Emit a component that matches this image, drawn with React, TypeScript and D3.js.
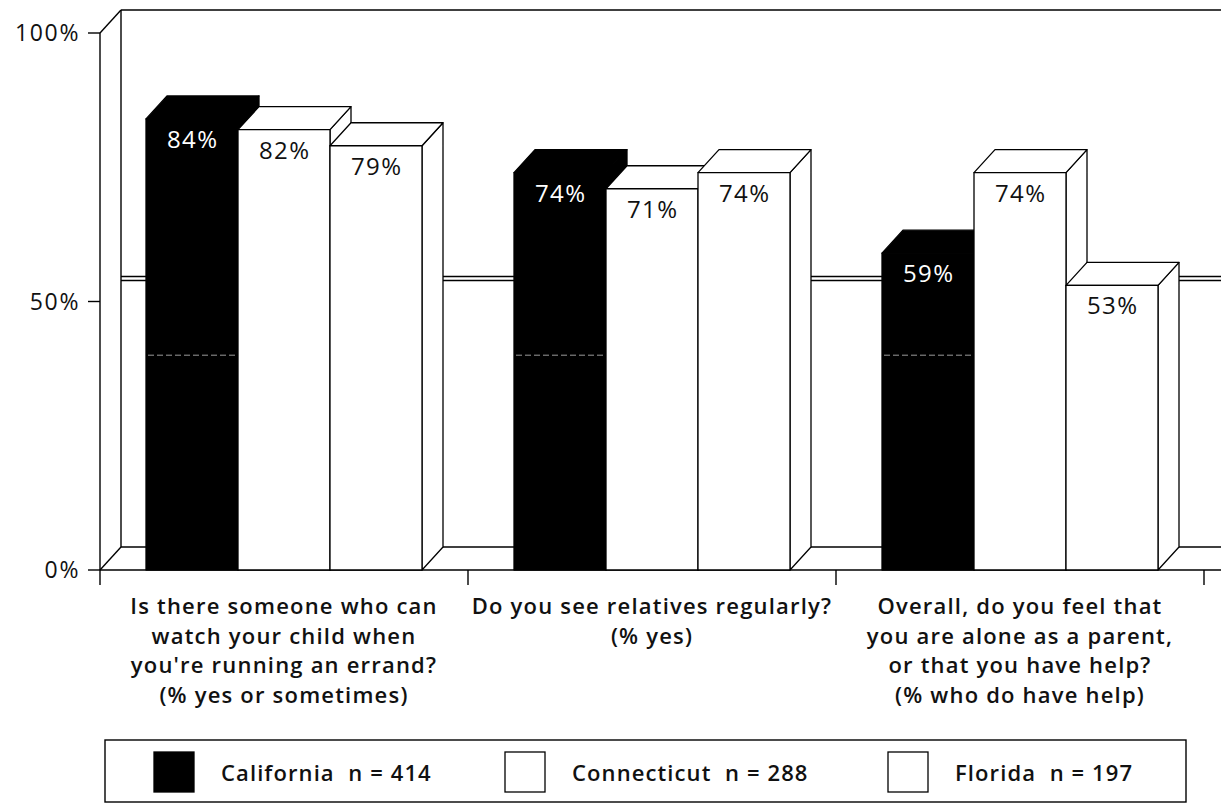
import React from "react";
import * as d3 from "d3";

// Survey questions (x categories), one line per array entry
const questions: string[][] = [
  [
    "Is there someone who can",
    "watch your child when",
    "you're running an errand?",
    "(% yes or sometimes)",
  ],
  ["Do you see relatives regularly?", "(% yes)"],
  [
    "Overall, do you feel that",
    "you are alone as a parent,",
    "or that you have help?",
    "(% who do have help)",
  ],
];

const states = ["California", "Connecticut", "Florida"];
const sampleSizes = [414, 288, 197];
const california = [84, 74, 59];
const connecticut = [82, 71, 74];
const florida = [79, 74, 53];
const yTicks = [0, 50, 100];

const seriesValues = [california, connecticut, florida];
const seriesFill = ["#000", "#fff", "#fff"];
const labelFill = ["#fff", "#111", "#111"];

const W = 1221;
const H = 803;
const FONT = "'Open Sans', 'DejaVu Sans', sans-serif";

// Oblique depth offset of the 3D frame
const DX = 21;
const DY = -23;

export default function App() {
  const groupIds = questions.map((_, i) => String(i));
  const x0 = d3.scaleBand<string>().domain(groupIds).range([100, 1204]).padding(0);
  const x1 = d3
    .scaleBand<string>()
    .domain(states)
    .range([0, x0.bandwidth()])
    .paddingInner(0)
    .paddingOuter(0.5);
  const y = d3.scaleLinear().domain([0, 100]).range([570, 33]);

  const left = 100;
  const right = W + 10;
  const y0 = y(0);
  const yTop = y(100);

  const boxPath = (x: number, w: number, top: number, bottom: number) => {
    const front = `M${x},${bottom}L${x},${top}L${x + w},${top}L${x + w},${bottom}Z`;
    const topFace = `M${x},${top}L${x + DX},${top + DY}L${x + w + DX},${top + DY}L${x + w},${top}Z`;
    const side = `M${x + w},${top}L${x + w + DX},${top + DY}L${x + w + DX},${bottom + DY}L${x + w},${bottom}Z`;
    return { front, topFace, side };
  };

  const bars: React.ReactNode[] = [];
  groupIds.forEach((g, gi) => {
    states.forEach((s, si) => {
      const v = seriesValues[si][gi];
      const bx = (x0(g) ?? 0) + (x1(s) ?? 0);
      const bw = x1.bandwidth();
      const top = y(v);
      const p = boxPath(bx, bw, top, y0);
      const fill = seriesFill[si];
      bars.push(
        <g key={`${g}-${s}`} stroke="#000" strokeWidth={1.3} strokeLinejoin="round">
          <path d={p.side} fill={fill} />
          <path d={p.topFace} fill={fill} />
          <path d={p.front} fill={fill} />
          {si === 0 && (
            <line
              x1={bx + 2}
              x2={bx + bw - 2}
              y1={y(40)}
              y2={y(40)}
              stroke="#9a9a9a"
              strokeWidth={1}
              strokeDasharray="6 3"
            />
          )}
          <text
            x={bx + bw / 2 + 0.7}
            y={top + 29}
            textAnchor="middle"
            fill={labelFill[si]}
            stroke="none"
            fontFamily={FONT}
            fontSize={24}
            letterSpacing={1.4}
          >
            {v}%
          </text>
        </g>
      );
    });
  });

  const legendX = [154, 505, 888];

  return (
    <div style={{ position: "absolute", left: 0, top: 0 }}>
      <svg width={W} height={H} style={{ display: "block", background: "#fff" }}>
        {/* back wall and floor outline */}
        <g stroke="#000" strokeWidth={1.4} fill="none">
          <line x1={left + DX} y1={yTop + DY} x2={right} y2={yTop + DY} />
          <line x1={left + DX} y1={yTop + DY} x2={left + DX} y2={y0 + DY} />
          <line x1={left + DX} y1={y0 + DY} x2={right} y2={y0 + DY} />
          <line x1={left} y1={y0} x2={left + DX} y2={y0 + DY} />
          <line x1={left} y1={yTop} x2={left + DX} y2={yTop + DY} />
          {/* 50% gridline on the back wall */}
          <line x1={left + DX} y1={y(50) + DY - 2} x2={right} y2={y(50) + DY - 2} />
          <line x1={left + DX} y1={y(50) + DY + 2} x2={right} y2={y(50) + DY + 2} />
        </g>

        {/* front axes */}
        <g stroke="#000" strokeWidth={1.4}>
          <line x1={left} y1={yTop} x2={left} y2={y0} />
          <line x1={left} y1={y0} x2={right} y2={y0} />
          {yTicks.map((t) => (
            <line key={t} x1={left - 12} x2={left} y1={y(t)} y2={y(t)} />
          ))}
          {[...groupIds.map((g) => x0(g) ?? 0), 1204].map((gx, i) => (
            <line key={i} x1={gx} x2={gx} y1={y0} y2={y0 + 15} />
          ))}
        </g>
        {yTicks.map((t) => (
          <text
            key={t}
            x={left - 20}
            y={y(t) + 8}
            textAnchor="end"
            fontFamily={FONT}
            fontSize={23}
            letterSpacing={1.6}
            fill="#111"
          >
            {t}%
          </text>
        ))}

        {bars}

        {/* category labels */}
        {questions.map((lines, gi) => {
          const cx = (x0(String(gi)) ?? 0) + x0.bandwidth() / 2;
          return (
            <text
              key={gi}
              textAnchor="middle"
              fontFamily={FONT}
              fontWeight={600}
              fontSize={22}
              letterSpacing={1.2}
              fill="#111"
            >
              {lines.map((ln, li) => (
                <tspan key={li} x={cx} y={614 + li * 29.5}>
                  {ln}
                </tspan>
              ))}
            </text>
          );
        })}

        {/* legend */}
        <rect x={105} y={740} width={1081} height={62} fill="#fff" stroke="#000" strokeWidth={1.4} />
        {states.map((s, i) => (
          <g key={s}>
            <rect
              x={legendX[i]}
              y={752}
              width={40}
              height={40}
              fill={seriesFill[i]}
              stroke="#000"
              strokeWidth={1.3}
            />
            <text
              x={legendX[i] + 67}
              y={781}
              fontFamily={FONT}
              fontWeight={600}
              fontSize={22}
              letterSpacing={1.1}
              fill="#111"
              style={{ whiteSpace: "pre" }}
            >
              {`${s}  n = ${sampleSizes[i]}`}
            </text>
          </g>
        ))}
      </svg>
    </div>
  );
}
